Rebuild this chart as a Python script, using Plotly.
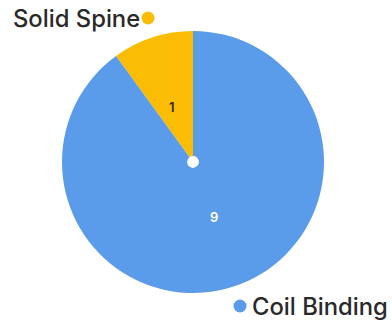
import math
import plotly.graph_objects as go

categories = ["Solid Spine", "Coil Binding"]
counts = [1, 9]
colors = ["#FBBC04", "#5A9BEA"]
value_text_colors = ["#2B2B2B", "#FFFFFF"]

W, H = 392, 326
cx, cy, r = 193, 162, 131
FONT = "Inter"

fig = go.Figure(go.Pie(
    labels=categories,
    values=counts,
    marker=dict(colors=colors, line=dict(width=0)),
    sort=False,
    direction="clockwise",
    rotation=-360 * counts[0] / sum(counts),
    hole=0.045,
    textinfo="none",
    showlegend=False,
    hoverinfo="label+value",
    domain=dict(x=[(cx - r) / W, (cx + r) / W], y=[1 - (cy + r) / H, 1 - (cy - r) / H]),
))

# value labels at the middle of each slice, about half way out
total = sum(counts)
start = -360 * counts[0] / total
for val, col in zip(counts, value_text_colors):
    mid = math.radians(start + 180 * val / total)
    start += 360 * val / total
    rr = 0.52 * r
    x = cx + rr * math.sin(mid)
    y = cy - rr * math.cos(mid)
    fig.add_annotation(
        x=x / W, y=1 - y / H, xref="paper", yref="paper",
        showarrow=False, text=str(val),
        font=dict(family=FONT, size=13, color=col, weight=600),
    )

# outside category labels with coloured dots
fig.add_annotation(
    x=11 / W, y=1 - 18 / H, xref="paper", yref="paper",
    xanchor="left", yanchor="middle", showarrow=False,
    text=categories[0],
    font=dict(family=FONT, size=23.8, color="#2A2A2A", weight=500),
)
fig.add_annotation(
    x=390 / W, y=1 - 306 / H, xref="paper", yref="paper",
    xanchor="right", yanchor="middle", showarrow=False,
    text=categories[1],
    font=dict(family=FONT, size=23.8, color="#2A2A2A", weight=500),
)
for (dx, dy), col in zip([(148, 18), (240, 306)], colors):
    fig.add_shape(
        type="circle", xref="paper", yref="paper",
        x0=(dx - 6.5) / W, x1=(dx + 6.5) / W,
        y0=1 - (dy + 6.5) / H, y1=1 - (dy - 6.5) / H,
        fillcolor=col, line=dict(width=0),
    )

fig.update_layout(
    width=W, height=H,
    margin=dict(l=0, r=0, t=0, b=0),
    paper_bgcolor="white", plot_bgcolor="white",
)

fig.write_html("out.html")
